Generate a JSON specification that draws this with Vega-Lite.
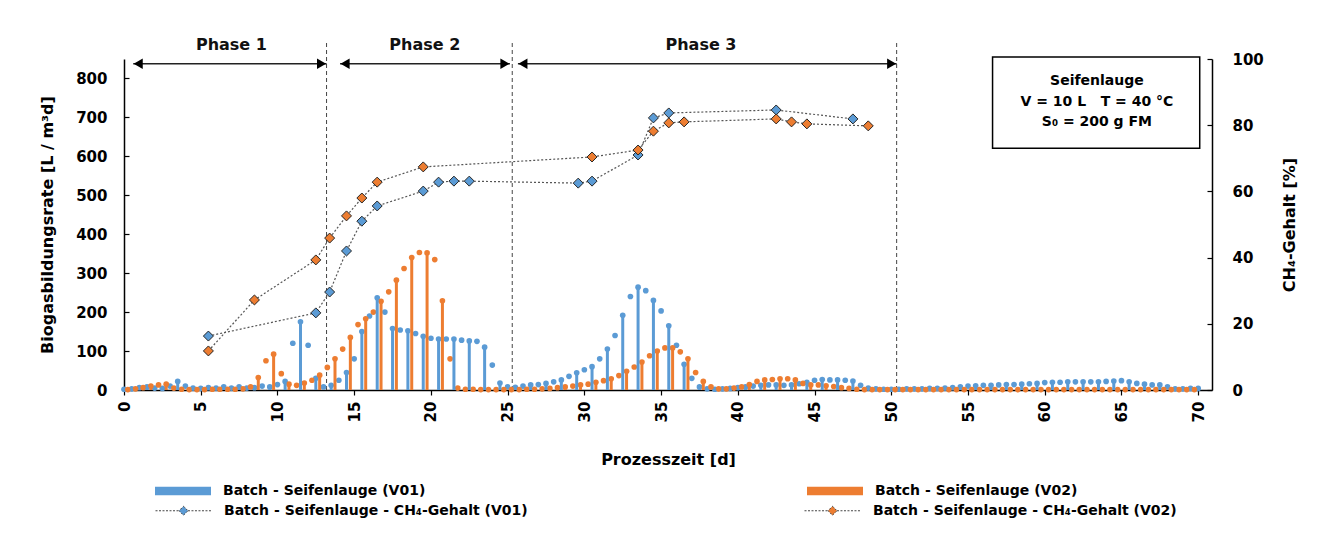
{
"$schema": "https://vega.github.io/schema/vega-lite/v6.json",
"width": 1088, "height": 331,
"autosize": {"type": "none"},
"padding": {"left": 124, "top": 59, "right": 126, "bottom": 150},
"background": "white",
"config": {
 "view": {"stroke": null},
 "font": "DejaVu Sans",
 "axis": {"labelFont": "DejaVu Sans", "labelFontWeight": "bold", "labelFontSize": 15, "labelColor": "#000", "titleFont": "DejaVu Sans", "titleFontWeight": "bold", "titleFontSize": 16, "titleColor": "#000", "domainColor": "#000", "tickColor": "#000", "domainWidth": 1.5, "tickWidth": 1.2, "grid": false}
},
"datasets": {
 "rate": [
{"t":0,"s":"V01","v":2},{"t":0.5,"s":"V01","v":3},{"t":1,"s":"V01","v":6},{"t":1.5,"s":"V01","v":8},{"t":2,"s":"V01","v":5},{"t":2.5,"s":"V01","v":4},{"t":3,"s":"V01","v":10},{"t":3.5,"s":"V01","v":22},{"t":4,"s":"V01","v":10},{"t":4.5,"s":"V01","v":5},{"t":5,"s":"V01","v":4},{"t":5.5,"s":"V01","v":6},{"t":6,"s":"V01","v":5},{"t":6.5,"s":"V01","v":8},{"t":7,"s":"V01","v":5},{"t":7.5,"s":"V01","v":8},{"t":8,"s":"V01","v":5},{"t":8.5,"s":"V01","v":6},{"t":9,"s":"V01","v":10},{"t":9.5,"s":"V01","v":8},{"t":10,"s":"V01","v":14},{"t":10.5,"s":"V01","v":22},{"t":11,"s":"V01","v":120},{"t":11.5,"s":"V01","v":175},{"t":12,"s":"V01","v":115},{"t":12.5,"s":"V01","v":30},{"t":13,"s":"V01","v":8},{"t":13.5,"s":"V01","v":12},{"t":14,"s":"V01","v":25},{"t":14.5,"s":"V01","v":45},{"t":15,"s":"V01","v":80},{"t":15.5,"s":"V01","v":150},{"t":16,"s":"V01","v":190},{"t":16.5,"s":"V01","v":237},{"t":17,"s":"V01","v":200},{"t":17.5,"s":"V01","v":158},{"t":18,"s":"V01","v":154},{"t":18.5,"s":"V01","v":152},{"t":19,"s":"V01","v":145},{"t":19.5,"s":"V01","v":138},{"t":20,"s":"V01","v":133},{"t":20.5,"s":"V01","v":131},{"t":21,"s":"V01","v":131},{"t":21.5,"s":"V01","v":131},{"t":22,"s":"V01","v":128},{"t":22.5,"s":"V01","v":126},{"t":23,"s":"V01","v":125},{"t":23.5,"s":"V01","v":110},{"t":24,"s":"V01","v":64},{"t":24.5,"s":"V01","v":18},{"t":25,"s":"V01","v":8},{"t":25.5,"s":"V01","v":7},{"t":26,"s":"V01","v":10},{"t":26.5,"s":"V01","v":13},{"t":27,"s":"V01","v":14},{"t":27.5,"s":"V01","v":17},{"t":28,"s":"V01","v":21},{"t":28.5,"s":"V01","v":26},{"t":29,"s":"V01","v":35},{"t":29.5,"s":"V01","v":44},{"t":30,"s":"V01","v":52},{"t":30.5,"s":"V01","v":60},{"t":31,"s":"V01","v":80},{"t":31.5,"s":"V01","v":105},{"t":32,"s":"V01","v":140},{"t":32.5,"s":"V01","v":192},{"t":33,"s":"V01","v":240},{"t":33.5,"s":"V01","v":264},{"t":34,"s":"V01","v":255},{"t":34.5,"s":"V01","v":230},{"t":35,"s":"V01","v":203},{"t":35.5,"s":"V01","v":165},{"t":36,"s":"V01","v":115},{"t":36.5,"s":"V01","v":66},{"t":37,"s":"V01","v":30},{"t":37.5,"s":"V01","v":8},{"t":38,"s":"V01","v":3},{"t":38.5,"s":"V01","v":2},{"t":39,"s":"V01","v":3},{"t":39.5,"s":"V01","v":4},{"t":40,"s":"V01","v":6},{"t":40.5,"s":"V01","v":8},{"t":41,"s":"V01","v":10},{"t":41.5,"s":"V01","v":12},{"t":42,"s":"V01","v":13},{"t":42.5,"s":"V01","v":13},{"t":43,"s":"V01","v":12},{"t":43.5,"s":"V01","v":13},{"t":44,"s":"V01","v":16},{"t":44.5,"s":"V01","v":20},{"t":45,"s":"V01","v":25},{"t":45.5,"s":"V01","v":27},{"t":46,"s":"V01","v":26},{"t":46.5,"s":"V01","v":26},{"t":47,"s":"V01","v":25},{"t":47.5,"s":"V01","v":23},{"t":48,"s":"V01","v":12},{"t":48.5,"s":"V01","v":5},{"t":49,"s":"V01","v":3},{"t":49.5,"s":"V01","v":2},{"t":50,"s":"V01","v":2},{"t":50.5,"s":"V01","v":2},{"t":51,"s":"V01","v":3},{"t":51.5,"s":"V01","v":3},{"t":52,"s":"V01","v":3},{"t":52.5,"s":"V01","v":4},{"t":53,"s":"V01","v":4},{"t":53.5,"s":"V01","v":5},{"t":54,"s":"V01","v":6},{"t":54.5,"s":"V01","v":8},{"t":55,"s":"V01","v":10},{"t":55.5,"s":"V01","v":11},{"t":56,"s":"V01","v":12},{"t":56.5,"s":"V01","v":12},{"t":57,"s":"V01","v":13},{"t":57.5,"s":"V01","v":14},{"t":58,"s":"V01","v":14},{"t":58.5,"s":"V01","v":15},{"t":59,"s":"V01","v":16},{"t":59.5,"s":"V01","v":17},{"t":60,"s":"V01","v":19},{"t":60.5,"s":"V01","v":20},{"t":61,"s":"V01","v":20},{"t":61.5,"s":"V01","v":21},{"t":62,"s":"V01","v":21},{"t":62.5,"s":"V01","v":21},{"t":63,"s":"V01","v":21},{"t":63.5,"s":"V01","v":21},{"t":64,"s":"V01","v":22},{"t":64.5,"s":"V01","v":23},{"t":65,"s":"V01","v":24},{"t":65.5,"s":"V01","v":21},{"t":66,"s":"V01","v":17},{"t":66.5,"s":"V01","v":15},{"t":67,"s":"V01","v":13},{"t":67.5,"s":"V01","v":13},{"t":68,"s":"V01","v":8},{"t":68.5,"s":"V01","v":3},{"t":69,"s":"V01","v":3},{"t":69.5,"s":"V01","v":4},{"t":70,"s":"V01","v":4},
{"t":0.25,"s":"V02","v":1},{"t":0.75,"s":"V02","v":3},{"t":1.25,"s":"V02","v":6},{"t":1.75,"s":"V02","v":10},{"t":2.25,"s":"V02","v":13},{"t":2.75,"s":"V02","v":15},{"t":3.25,"s":"V02","v":5},{"t":3.75,"s":"V02","v":2},{"t":4.25,"s":"V02","v":1},{"t":4.75,"s":"V02","v":1},{"t":5.25,"s":"V02","v":1},{"t":5.75,"s":"V02","v":2},{"t":6.25,"s":"V02","v":2},{"t":6.75,"s":"V02","v":2},{"t":7.25,"s":"V02","v":2},{"t":7.75,"s":"V02","v":3},{"t":8.25,"s":"V02","v":8},{"t":8.75,"s":"V02","v":32},{"t":9.25,"s":"V02","v":75},{"t":9.75,"s":"V02","v":92},{"t":10.25,"s":"V02","v":42},{"t":10.75,"s":"V02","v":15},{"t":11.25,"s":"V02","v":12},{"t":11.75,"s":"V02","v":18},{"t":12.25,"s":"V02","v":25},{"t":12.75,"s":"V02","v":38},{"t":13.25,"s":"V02","v":58},{"t":13.75,"s":"V02","v":80},{"t":14.25,"s":"V02","v":105},{"t":14.75,"s":"V02","v":135},{"t":15.25,"s":"V02","v":168},{"t":15.75,"s":"V02","v":183},{"t":16.25,"s":"V02","v":200},{"t":16.75,"s":"V02","v":228},{"t":17.25,"s":"V02","v":252},{"t":17.75,"s":"V02","v":282},{"t":18.25,"s":"V02","v":312},{"t":18.75,"s":"V02","v":340},{"t":19.25,"s":"V02","v":353},{"t":19.75,"s":"V02","v":352},{"t":20.25,"s":"V02","v":335},{"t":20.75,"s":"V02","v":229},{"t":21.25,"s":"V02","v":80},{"t":21.75,"s":"V02","v":5},{"t":22.25,"s":"V02","v":2},{"t":22.75,"s":"V02","v":2},{"t":23.25,"s":"V02","v":1},{"t":23.75,"s":"V02","v":1},{"t":24.25,"s":"V02","v":1},{"t":24.75,"s":"V02","v":1},{"t":25.25,"s":"V02","v":1},{"t":25.75,"s":"V02","v":1},{"t":26.25,"s":"V02","v":2},{"t":26.75,"s":"V02","v":2},{"t":27.25,"s":"V02","v":3},{"t":27.75,"s":"V02","v":4},{"t":28.25,"s":"V02","v":6},{"t":28.75,"s":"V02","v":8},{"t":29.25,"s":"V02","v":10},{"t":29.75,"s":"V02","v":13},{"t":30.25,"s":"V02","v":15},{"t":30.75,"s":"V02","v":20},{"t":31.25,"s":"V02","v":24},{"t":31.75,"s":"V02","v":29},{"t":32.25,"s":"V02","v":37},{"t":32.75,"s":"V02","v":48},{"t":33.25,"s":"V02","v":59},{"t":33.75,"s":"V02","v":72},{"t":34.25,"s":"V02","v":88},{"t":34.75,"s":"V02","v":100},{"t":35.25,"s":"V02","v":108},{"t":35.75,"s":"V02","v":108},{"t":36.25,"s":"V02","v":98},{"t":36.75,"s":"V02","v":80},{"t":37.25,"s":"V02","v":45},{"t":37.75,"s":"V02","v":22},{"t":38.25,"s":"V02","v":8},{"t":38.75,"s":"V02","v":3},{"t":39.25,"s":"V02","v":3},{"t":39.75,"s":"V02","v":5},{"t":40.25,"s":"V02","v":8},{"t":40.75,"s":"V02","v":14},{"t":41.25,"s":"V02","v":22},{"t":41.75,"s":"V02","v":26},{"t":42.25,"s":"V02","v":27},{"t":42.75,"s":"V02","v":29},{"t":43.25,"s":"V02","v":29},{"t":43.75,"s":"V02","v":26},{"t":44.25,"s":"V02","v":17},{"t":44.75,"s":"V02","v":13},{"t":45.25,"s":"V02","v":13},{"t":45.75,"s":"V02","v":11},{"t":46.25,"s":"V02","v":9},{"t":46.75,"s":"V02","v":6},{"t":47.25,"s":"V02","v":4},{"t":47.75,"s":"V02","v":2},{"t":48.25,"s":"V02","v":1},{"t":48.75,"s":"V02","v":1},{"t":49.25,"s":"V02","v":1},{"t":49.75,"s":"V02","v":1},{"t":50.25,"s":"V02","v":1},{"t":50.75,"s":"V02","v":1},{"t":51.25,"s":"V02","v":1},{"t":51.75,"s":"V02","v":1},{"t":52.25,"s":"V02","v":1},{"t":52.75,"s":"V02","v":1},{"t":53.25,"s":"V02","v":1},{"t":53.75,"s":"V02","v":1},{"t":54.25,"s":"V02","v":1},{"t":54.75,"s":"V02","v":1},{"t":55.25,"s":"V02","v":1},{"t":55.75,"s":"V02","v":1},{"t":56.25,"s":"V02","v":1},{"t":56.75,"s":"V02","v":1},{"t":57.25,"s":"V02","v":1},{"t":57.75,"s":"V02","v":1},{"t":58.25,"s":"V02","v":1},{"t":58.75,"s":"V02","v":1},{"t":59.25,"s":"V02","v":1},{"t":59.75,"s":"V02","v":1},{"t":60.25,"s":"V02","v":1},{"t":60.75,"s":"V02","v":1},{"t":61.25,"s":"V02","v":1},{"t":61.75,"s":"V02","v":1},{"t":62.25,"s":"V02","v":1},{"t":62.75,"s":"V02","v":1},{"t":63.25,"s":"V02","v":1},{"t":63.75,"s":"V02","v":1},{"t":64.25,"s":"V02","v":1},{"t":64.75,"s":"V02","v":1},{"t":65.25,"s":"V02","v":1},{"t":65.75,"s":"V02","v":1},{"t":66.25,"s":"V02","v":1},{"t":66.75,"s":"V02","v":1},{"t":67.25,"s":"V02","v":1},{"t":67.75,"s":"V02","v":1},{"t":68.25,"s":"V02","v":1},{"t":68.75,"s":"V02","v":1},{"t":69.25,"s":"V02","v":1},{"t":69.75,"s":"V02","v":1}
 ],
 "ch4": [
{"t":5.5,"s":"Batch - Seifenlauge - CH₄-Gehalt (V01)","v":16.3},{"t":12.5,"s":"Batch - Seifenlauge - CH₄-Gehalt (V01)","v":23.3},{"t":13.4,"s":"Batch - Seifenlauge - CH₄-Gehalt (V01)","v":29.6},{"t":14.5,"s":"Batch - Seifenlauge - CH₄-Gehalt (V01)","v":42},{"t":15.5,"s":"Batch - Seifenlauge - CH₄-Gehalt (V01)","v":51},{"t":16.5,"s":"Batch - Seifenlauge - CH₄-Gehalt (V01)","v":55.6},{"t":19.5,"s":"Batch - Seifenlauge - CH₄-Gehalt (V01)","v":60.1},{"t":20.5,"s":"Batch - Seifenlauge - CH₄-Gehalt (V01)","v":62.8},{"t":21.5,"s":"Batch - Seifenlauge - CH₄-Gehalt (V01)","v":63.1},{"t":22.5,"s":"Batch - Seifenlauge - CH₄-Gehalt (V01)","v":63.1},{"t":29.6,"s":"Batch - Seifenlauge - CH₄-Gehalt (V01)","v":62.5},{"t":30.5,"s":"Batch - Seifenlauge - CH₄-Gehalt (V01)","v":63.1},{"t":33.5,"s":"Batch - Seifenlauge - CH₄-Gehalt (V01)","v":71},{"t":34.5,"s":"Batch - Seifenlauge - CH₄-Gehalt (V01)","v":82.2},{"t":35.5,"s":"Batch - Seifenlauge - CH₄-Gehalt (V01)","v":83.7},{"t":42.5,"s":"Batch - Seifenlauge - CH₄-Gehalt (V01)","v":84.6},{"t":47.5,"s":"Batch - Seifenlauge - CH₄-Gehalt (V01)","v":81.9},
{"t":5.5,"s":"Batch - Seifenlauge - CH₄-Gehalt (V02)","v":11.8},{"t":8.5,"s":"Batch - Seifenlauge - CH₄-Gehalt (V02)","v":27.2},{"t":12.5,"s":"Batch - Seifenlauge - CH₄-Gehalt (V02)","v":39.3},{"t":13.4,"s":"Batch - Seifenlauge - CH₄-Gehalt (V02)","v":45.9},{"t":14.5,"s":"Batch - Seifenlauge - CH₄-Gehalt (V02)","v":52.6},{"t":15.5,"s":"Batch - Seifenlauge - CH₄-Gehalt (V02)","v":58},{"t":16.5,"s":"Batch - Seifenlauge - CH₄-Gehalt (V02)","v":62.8},{"t":19.5,"s":"Batch - Seifenlauge - CH₄-Gehalt (V02)","v":67.4},{"t":30.5,"s":"Batch - Seifenlauge - CH₄-Gehalt (V02)","v":70.4},{"t":33.5,"s":"Batch - Seifenlauge - CH₄-Gehalt (V02)","v":72.5},{"t":34.5,"s":"Batch - Seifenlauge - CH₄-Gehalt (V02)","v":78.2},{"t":35.5,"s":"Batch - Seifenlauge - CH₄-Gehalt (V02)","v":80.7},{"t":36.5,"s":"Batch - Seifenlauge - CH₄-Gehalt (V02)","v":81},{"t":42.5,"s":"Batch - Seifenlauge - CH₄-Gehalt (V02)","v":81.9},{"t":43.5,"s":"Batch - Seifenlauge - CH₄-Gehalt (V02)","v":81},{"t":44.5,"s":"Batch - Seifenlauge - CH₄-Gehalt (V02)","v":80.4},{"t":48.5,"s":"Batch - Seifenlauge - CH₄-Gehalt (V02)","v":79.8}
 ],
 "bounds": [{"t":13.2,"v":0,"v2":892},{"t":25.3,"v":0,"v2":892},{"t":50.35,"v":0,"v2":892}],
 "phases": [
  {"label":"Phase 1","t":0.6,"t2":13.2,"tm":7.0,"v":838,"vt":885},
  {"label":"Phase 2","t":14.08,"t2":25.15,"tm":19.6,"v":838,"vt":885},
  {"label":"Phase 3","t":25.67,"t2":50.35,"tm":37.6,"v":838,"vt":885}
 ],
 "box": [{"t":56.6,"t2":70.1,"v":621,"v2":855}],
 "boxtext": [
  {"tm":63.4,"v":793,"txt":"Seifenlauge"},
  {"tm":63.4,"v":740,"txt":"V = 10 L\u00a0\u00a0\u00a0T = 40 °C"},
  {"tm":63.4,"v":688,"txt":"S₀ = 200 g FM"}
 ]
},
"layer": [
 {"layer": [
  {"data": {"name": "bounds"},
   "mark": {"type": "rule", "color": "#444", "strokeDash": [4, 3], "strokeWidth": 1},
   "encoding": {
    "x": {"field": "t", "type": "quantitative", "scale": {"domain": [0, 70.9], "nice": false, "zero": false}, "axis": {"title": "Prozesszeit [d]", "values": [0,5,10,15,20,25,30,35,40,45,50,55,60,65,70], "labelAngle": -90, "tickSize": 5, "labelPadding": 6, "titlePadding": 30}},
    "y": {"field": "v", "type": "quantitative", "scale": {"domain": [0, 850], "nice": false}, "axis": {"title": "Biogasbildungsrate [L / m³d]", "values": [0,100,200,300,400,500,600,700,800], "tickSize": -5, "labelPadding": 22, "titlePadding": 20}},
    "y2": {"field": "v2"}
   }},
  {"data": {"name": "rate"},
   "mark": {"type": "circle", "size": 32, "opacity": 1},
   "encoding": {
    "x": {"field": "t", "type": "quantitative", "title": "Prozesszeit [d]"},
    "y": {"field": "v", "type": "quantitative", "title": "Biogasbildungsrate [L / m³d]"},
    "color": {"field": "s", "type": "nominal", "scale": {"domain": ["V01", "V02"], "range": ["#5B9BD5", "#ED7D31"]},
     "legend": {"orient": "none", "legendX": 31, "legendY": 404, "direction": "horizontal", "title": null, "symbolType": "M-1,-0.15H1V0.15H-1Z", "symbolSize": 3136, "symbolStrokeWidth": 0, "symbolOpacity": 1, "labelExpr": "'Batch - Seifenlauge (' + datum.label + ')'", "labelFont": "DejaVu Sans", "labelFontWeight": "bold", "labelFontSize": 14, "labelColor": "#000", "labelOffset": 12, "labelLimit": 0, "columnPadding": 381}}
   }},
  {"data": {"name": "rate"},
   "transform": [{"filter": "(datum.s == 'V01' && datum.t % 1 == 0.5) || (datum.s == 'V02' && datum.t % 1 == 0.75)"}],
   "mark": {"type": "rule", "strokeWidth": 3},
   "encoding": {
    "x": {"field": "t", "type": "quantitative", "title": "Prozesszeit [d]"},
    "y": {"field": "v", "type": "quantitative", "title": "Biogasbildungsrate [L / m³d]"},
    "y2": {"datum": 0},
    "color": {"field": "s", "type": "nominal"}
   }},
  {"data": {"name": "phases"},
   "mark": {"type": "rule", "color": "#222", "strokeWidth": 1.5},
   "encoding": {
    "x": {"field": "t", "type": "quantitative", "title": "Prozesszeit [d]"},
    "x2": {"field": "t2"},
    "y": {"field": "v", "type": "quantitative", "title": "Biogasbildungsrate [L / m³d]"}
   }},
  {"data": {"name": "phases"},
   "mark": {"type": "point", "shape": "triangle-left", "filled": true, "color": "#000", "size": 110, "opacity": 1, "xOffset": 5},
   "encoding": {
    "x": {"field": "t", "type": "quantitative", "title": "Prozesszeit [d]"},
    "y": {"field": "v", "type": "quantitative", "title": "Biogasbildungsrate [L / m³d]"}
   }},
  {"data": {"name": "phases"},
   "mark": {"type": "point", "shape": "triangle-right", "filled": true, "color": "#000", "size": 110, "opacity": 1, "xOffset": -5},
   "encoding": {
    "x": {"field": "t2", "type": "quantitative", "title": "Prozesszeit [d]"},
    "y": {"field": "v", "type": "quantitative", "title": "Biogasbildungsrate [L / m³d]"}
   }},
  {"data": {"name": "phases"},
   "mark": {"type": "text", "font": "DejaVu Sans", "fontWeight": "bold", "fontSize": 16, "color": "#111", "baseline": "middle", "align": "center"},
   "encoding": {
    "x": {"field": "tm", "type": "quantitative", "title": "Prozesszeit [d]"},
    "y": {"field": "vt", "type": "quantitative", "title": "Biogasbildungsrate [L / m³d]"},
    "text": {"field": "label"}
   }},
  {"data": {"name": "box"},
   "mark": {"type": "rect", "fill": "white", "stroke": "#000", "strokeWidth": 1.5},
   "encoding": {
    "x": {"field": "t", "type": "quantitative", "title": "Prozesszeit [d]"},
    "x2": {"field": "t2"},
    "y": {"field": "v", "type": "quantitative", "title": "Biogasbildungsrate [L / m³d]"},
    "y2": {"field": "v2"}
   }},
  {"data": {"name": "boxtext"},
   "mark": {"type": "text", "font": "DejaVu Sans", "fontWeight": "bold", "fontSize": 14, "color": "#000", "baseline": "middle", "align": "center"},
   "encoding": {
    "x": {"field": "tm", "type": "quantitative", "title": "Prozesszeit [d]"},
    "y": {"field": "v", "type": "quantitative", "title": "Biogasbildungsrate [L / m³d]"},
    "text": {"field": "txt"}
   }}
 ]},
 {"layer": [
  {"data": {"name": "ch4"},
   "mark": {"type": "line", "color": "#555", "strokeDash": [2, 2], "strokeWidth": 1.2},
   "encoding": {
    "x": {"field": "t", "type": "quantitative", "title": "Prozesszeit [d]"},
    "y": {"field": "v", "type": "quantitative", "scale": {"domain": [0, 100], "nice": false}, "axis": {"orient": "right", "title": "CH₄-Gehalt [%]", "values": [0,10,20,30,40,50,60,70,80,90,100], "tickSize": -5, "labelPadding": 25, "titlePadding": 18, "titleAngle": 270, "titleBaseline": "top"}},
    "detail": {"field": "s"}
   }},
  {"data": {"name": "ch4"},
   "mark": {"type": "point", "shape": "diamond", "filled": true, "size": 100, "stroke": "#262626", "strokeWidth": 1, "opacity": 1},
   "encoding": {
    "x": {"field": "t", "type": "quantitative", "title": "Prozesszeit [d]"},
    "y": {"field": "v", "type": "quantitative", "title": "CH₄-Gehalt [%]"},
    "fill": {"field": "s", "type": "nominal", "scale": {"domain": ["Batch - Seifenlauge - CH₄-Gehalt (V01)", "Batch - Seifenlauge - CH₄-Gehalt (V02)"], "range": ["#5B9BD5", "#ED7D31"]},
     "legend": {"orient": "none", "legendX": 31, "legendY": 423, "direction": "horizontal", "title": null, "symbolType": "M-1,0H-0.16M0.16,0H1M0,-0.16L0.16,0L0,0.16L-0.16,0Z", "symbolSize": 3136, "symbolStrokeColor": "#444", "symbolStrokeWidth": 1, "symbolDash": [2, 1.5], "symbolOpacity": 1, "labelFont": "DejaVu Sans", "labelFontWeight": "bold", "labelFontSize": 14, "labelColor": "#000", "labelOffset": 12, "labelLimit": 0, "columnPadding": 274}}
   }}
 ]}
],
"resolve": {"scale": {"y": "independent"}}
}
